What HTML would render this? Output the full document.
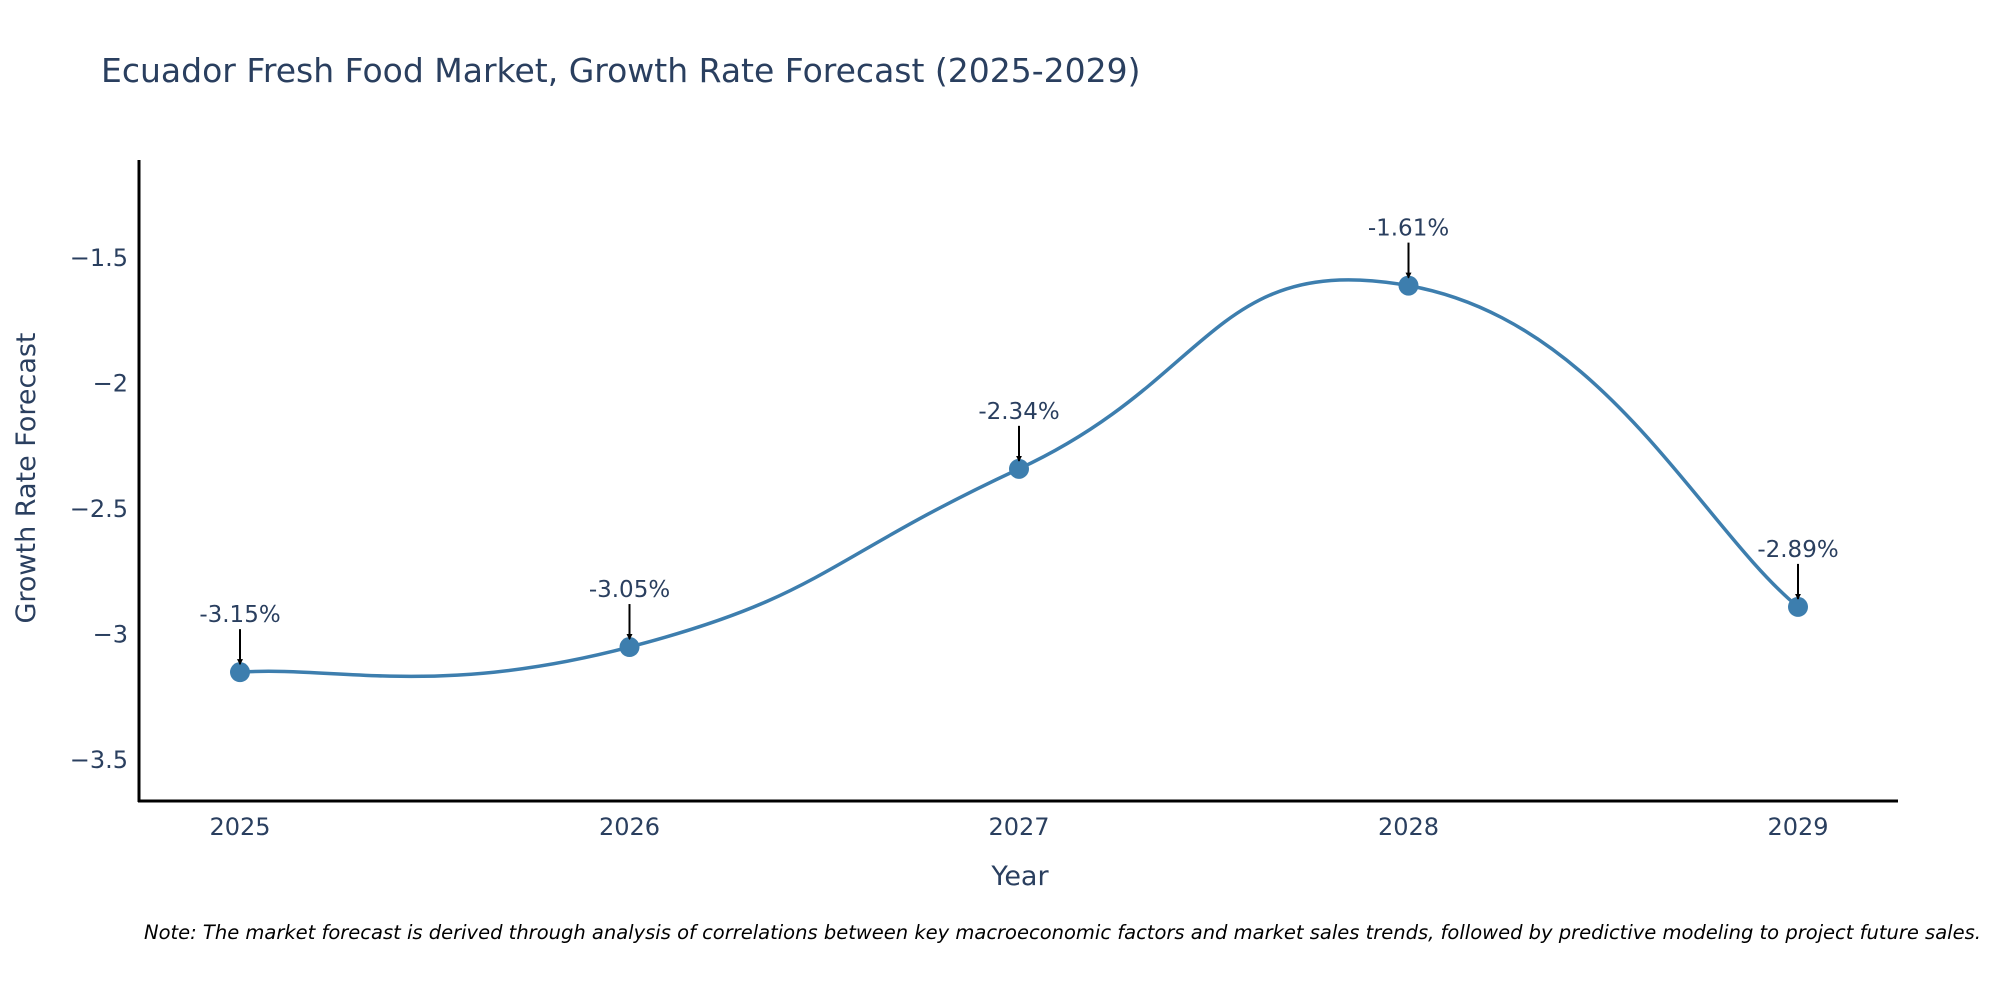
<!DOCTYPE html>
<html><head><meta charset="utf-8"><style>
html,body{margin:0;padding:0;background:#fff;}
svg{display:block;font-family:"DejaVu Sans","Liberation Sans",sans-serif;}
</style></head><body>
<svg id="chart" width="2000" height="1000" viewBox="0 0 2000 1000" xmlns="http://www.w3.org/2000/svg">
<rect width="2000" height="1000" fill="#fff"/>
<text x="101" y="82" font-size="33" fill="#2a3f5f">Ecuador Fresh Food Market, Growth Rate Forecast (2025-2029)</text>
<g id="grid"></g>
<g id="series"></g>
<g id="annots"></g>
<line x1="139" y1="160" x2="139" y2="802" stroke="#000" stroke-width="3"/>
<line x1="138" y1="801" x2="1898" y2="801" stroke="#000" stroke-width="3"/>
<g id="xticks"></g>
<g id="yticks"></g>
<text x="1020" y="885" font-size="27" fill="#2a3f5f" text-anchor="middle">Year</text>
<text transform="translate(35,478) rotate(-90)" font-size="27" fill="#2a3f5f" text-anchor="middle">Growth Rate Forecast</text>
<text x="144" y="939" font-size="19.5" font-style="italic" fill="#000">Note: The market forecast is derived through analysis of correlations between key macroeconomic factors and market sales trends, followed by predictive modeling to project future sales.</text>
<defs><marker id="ah" markerWidth="6" markerHeight="6" refX="5" refY="3" orient="auto" markerUnits="userSpaceOnUse" viewBox="0 0 6 6"><path d="M0,0 L6,3 L0,6 z" fill="#000"/></marker></defs>
</svg>
<script>
const years = [2025, 2026, 2027, 2028, 2029];
const values = [-3.15, -3.05, -2.34, -1.61, -2.89];
const labels = ["-3.15%", "-3.05%", "-2.34%", "-1.61%", "-2.89%"];
const yTickValues = [-1.5, -2, -2.5, -3, -3.5];
const yTickLabels = ["\u22121.5", "\u22122", "\u22122.5", "\u22123", "\u22123.5"];

const NS = "http://www.w3.org/2000/svg";
function xs(v){ return 240 + (v - 2025) * 389.5; }
function ys(v){ return 258 + (-1.5 - v) * 251; }
function mk(tag, attrs, parent){ const e=document.createElementNS(NS,tag); for(const k in attrs) e.setAttribute(k,attrs[k]); parent.appendChild(e); return e; }

const xt=document.getElementById('xticks');
years.forEach(y=>{
  const t=mk('text',{x:xs(y),y:835,'font-size':24,fill:'#2a3f5f','text-anchor':'middle'},xt);
  
  
  t.textContent=y;
});
const yt=document.getElementById('yticks');
yTickValues.forEach((v,i)=>{
  const t=mk('text',{x:128,y:ys(v)+8,'font-size':24,fill:'#2a3f5f','text-anchor':'end'},yt);
  
  
  t.textContent=yTickLabels[i];
});

const pts=years.map((y,i)=>[xs(y),ys(values[i])]);
let d='M'+pts[0][0]+','+pts[0][1];
const s=0.25;
for(let i=0;i<pts.length-1;i++){
  const p0=pts[Math.max(0,i-1)],p1=pts[i],p2=pts[i+1],p3=pts[Math.min(pts.length-1,i+2)];
  const c1=[p1[0]+(p2[0]-p0[0])*s,p1[1]+(p2[1]-p0[1])*s];
  const c2=[p2[0]-(p3[0]-p1[0])*s,p2[1]-(p3[1]-p1[1])*s];
  d+=' C'+c1[0]+','+c1[1]+' '+c2[0]+','+c2[1]+' '+p2[0]+','+p2[1];
}
const sg=document.getElementById('series');
const line=mk('path',{d:d,fill:'none',stroke:'#3d7eae','stroke-width':3.5},sg);


pts.forEach(p=>{
  const c=mk('circle',{cx:p[0],cy:p[1],r:10,fill:'#3d7eae'},sg);
  
  
});
const ag=document.getElementById('annots');
pts.forEach((p,i)=>{
  const a=mk('line',{x1:p[0],y1:p[1]-43,x2:p[0],y2:p[1]-8,stroke:'#000','stroke-width':2,'marker-end':'url(#ah)'},ag);
  
  
  const t=mk('text',{x:p[0],y:p[1]-50,'font-size':23,fill:'#2a3f5f','text-anchor':'middle'},ag);
  
  
  t.textContent=labels[i];
});
</script>
</body></html>
